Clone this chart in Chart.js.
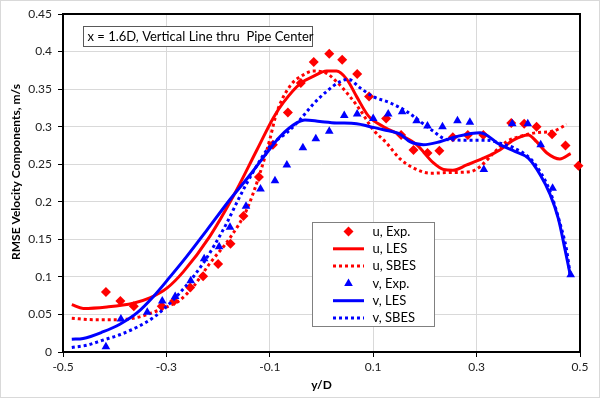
<!DOCTYPE html>
<html><head><meta charset="utf-8">
<script src="https://cdn.jsdelivr.net/npm/chart.js@4/dist/chart.umd.min.js"></script>
<style>html,body{margin:0;padding:0;background:#fff;}#wrap{width:600px;height:398px;position:relative;}</style>
</head><body><div id="wrap"><canvas id="c" width="600" height="398"></canvas></div>
<script>
const xTickValues = [-0.5, -0.3, -0.1, 0.1, 0.3, 0.5];
const xTickLabels = ['-0.5', '-0.3', '-0.1', '0.1', '0.3', '0.5'];
const yTickValues = [0, 0.05, 0.1, 0.15, 0.2, 0.25, 0.3, 0.35, 0.4, 0.45];
const yTickLabels = ['0', '0.05', '0.1', '0.15', '0.2', '0.25', '0.3', '0.35', '0.4', '0.45'];
const seriesNames = ['u, Exp.', 'u, LES', 'u, SBES', 'v, Exp.', 'v, LES', 'v, SBES'];
const xTitle = 'y/D';
const yTitle = 'RMSE Velocity Components, m/s';
const noteText = 'x = 1.6D, Vertical Line thru  Pipe Center';

const uExpX = [-0.417,-0.389,-0.363,-0.309,-0.285,-0.254,-0.229,-0.200,-0.176,-0.151,-0.121,-0.094,-0.065,-0.040,-0.015,0.015,0.040,0.069,0.092,0.125,0.154,0.178,0.205,0.228,0.254,0.283,0.313,0.367,0.392,0.416,0.446,0.472,0.497];
const uExpY = [0.080,0.068,0.061,0.061,0.068,0.086,0.101,0.117,0.144,0.181,0.233,0.276,0.319,0.358,0.386,0.397,0.389,0.370,0.340,0.311,0.289,0.269,0.265,0.268,0.286,0.289,0.289,0.305,0.304,0.300,0.290,0.275,0.248];

const uLesX = [-0.483,-0.461,-0.415,-0.364,-0.332,-0.299,-0.267,-0.216,-0.171,-0.125,-0.093,-0.074,-0.040,-0.016,0.010,0.029,0.049,0.068,0.091,0.120,0.152,0.184,0.216,0.236,0.254,0.281,0.313,0.345,0.371,0.400,0.416,0.436,0.461,0.482];
const uLesY = [0.063,0.058,0.060,0.065,0.072,0.085,0.107,0.154,0.207,0.269,0.312,0.332,0.358,0.367,0.374,0.374,0.363,0.340,0.314,0.300,0.289,0.276,0.252,0.243,0.242,0.249,0.258,0.269,0.282,0.289,0.280,0.265,0.257,0.264];

const uSbesX = [-0.483,-0.441,-0.396,-0.357,-0.325,-0.299,-0.274,-0.248,-0.216,-0.177,-0.145,-0.119,-0.100,-0.087,-0.061,-0.035,-0.016,0.007,0.029,0.055,0.074,0.100,0.126,0.152,0.178,0.210,0.249,0.287,0.307,0.333,0.358,0.384,0.416,0.448,0.474];
const uSbesY = [0.045,0.043,0.043,0.046,0.053,0.060,0.069,0.087,0.118,0.152,0.189,0.238,0.283,0.318,0.354,0.369,0.374,0.372,0.360,0.340,0.323,0.296,0.278,0.257,0.245,0.238,0.239,0.240,0.247,0.265,0.280,0.287,0.292,0.294,0.303];

const vExpX = [-0.417,-0.388,-0.337,-0.308,-0.283,-0.253,-0.227,-0.198,-0.177,-0.146,-0.118,-0.090,-0.067,-0.036,-0.011,0.015,0.044,0.069,0.100,0.129,0.156,0.184,0.205,0.234,0.263,0.287,0.314,0.369,0.399,0.424,0.447,0.482];
const vExpY = [0.007,0.044,0.053,0.068,0.074,0.095,0.124,0.140,0.166,0.194,0.217,0.228,0.249,0.272,0.284,0.294,0.315,0.317,0.311,0.317,0.320,0.308,0.301,0.300,0.308,0.306,0.243,0.304,0.304,0.276,0.218,0.103];

const vLesX = [-0.483,-0.461,-0.422,-0.390,-0.357,-0.325,-0.293,-0.261,-0.222,-0.177,-0.138,-0.106,-0.080,-0.048,-0.032,-0.003,0.029,0.068,0.094,0.120,0.152,0.171,0.197,0.229,0.262,0.307,0.345,0.374,0.400,0.423,0.442,0.458,0.470,0.481];
const vLesY = [0.017,0.018,0.027,0.037,0.052,0.074,0.100,0.127,0.162,0.203,0.236,0.265,0.287,0.305,0.309,0.307,0.305,0.304,0.300,0.296,0.290,0.280,0.276,0.280,0.287,0.292,0.276,0.267,0.258,0.236,0.210,0.178,0.140,0.103];

const vSbesX = [-0.483,-0.454,-0.422,-0.390,-0.357,-0.325,-0.293,-0.261,-0.229,-0.209,-0.183,-0.158,-0.132,-0.100,-0.067,-0.042,-0.016,0.010,0.036,0.052,0.074,0.100,0.132,0.165,0.187,0.216,0.242,0.281,0.320,0.345,0.371,0.403,0.423,0.442,0.461,0.474,0.481];
const vSbesY = [0.006,0.009,0.016,0.023,0.033,0.046,0.065,0.089,0.118,0.140,0.172,0.207,0.240,0.274,0.292,0.309,0.330,0.347,0.360,0.363,0.352,0.340,0.332,0.320,0.309,0.294,0.283,0.282,0.282,0.278,0.272,0.258,0.240,0.214,0.172,0.136,0.103];

const RED = '#ff0000', BLUE = '#0000ff';
const FONT = "Lato, 'Open Sans', 'Liberation Sans', sans-serif";
const pts = (xs, ys) => xs.map((x, i) => ({x: x, y: ys[i]}));

function markerSet(label, xs, ys, color, style, r, order) {
  return {type: 'scatter', label, data: pts(xs, ys), showLine: false, pointStyle: style,
    pointRadius: r, pointHoverRadius: r, backgroundColor: color, borderColor: color, borderWidth: 0, clip: false, order};
}
function lineSet(label, xs, ys, color, dash, order) {
  return {type: 'line', label, data: pts(xs, ys), showLine: true, pointRadius: 0, borderColor: color,
    backgroundColor: color, borderWidth: 3, borderDash: dash || [], borderCapStyle: 'butt',
    cubicInterpolationMode: 'monotone', fill: false, clip: 3, order};
}

const datasets = [
  markerSet(seriesNames[0], uExpX, uExpY, RED, 'rectRot', 5, 6),
  lineSet(seriesNames[1], uLesX, uLesY, RED, null, 5),
  lineSet(seriesNames[2], uSbesX, uSbesY, RED, [3, 3], 4),
  markerSet(seriesNames[3], vExpX, vExpY, BLUE, 'triangle', 5, 3),
  lineSet(seriesNames[4], vLesX, vLesY, BLUE, null, 2),
  lineSet(seriesNames[5], vSbesX, vSbesY, BLUE, [3, 3], 1)
];

const decor = {
  id: 'decor',
  beforeDatasetsDraw(chart) {
    const {ctx, chartArea: a} = chart;
    ctx.save();
    ctx.strokeStyle = '#000';
    ctx.lineWidth = 2;
    ctx.strokeRect(a.left, a.top, a.right - a.left, a.bottom - a.top);
    ctx.restore();
  },
  afterDraw(chart) {
    const {ctx, chartArea: a} = chart;
    ctx.save();
    ctx.strokeStyle = '#d9d9d9'; ctx.lineWidth = 1;
    ctx.strokeRect(0.5, 0.5, 599, 397);
    ctx.fillStyle = '#fff'; ctx.fillRect(83.5, 26.5, 229, 20);
    ctx.strokeStyle = '#595959'; ctx.lineWidth = 1; ctx.strokeRect(83.5, 26.5, 229, 20);
    ctx.fillStyle = '#000'; ctx.font = '13px ' + FONT; ctx.textBaseline = 'middle'; ctx.textAlign = 'left';
    ctx.fillText(noteText, 87.5, 37);
    ctx.font = 'bold 12px ' + FONT; ctx.textAlign = 'center';
    ctx.fillText(xTitle, (a.left + a.right) / 2, 385);
    ctx.save(); ctx.translate(16, 172); ctx.rotate(-Math.PI / 2); ctx.fillText(yTitle, 0, 0); ctx.restore();
    ctx.fillStyle = '#fff'; ctx.fillRect(312.5, 222.5, 122, 104);
    ctx.strokeStyle = '#808080'; ctx.lineWidth = 1; ctx.strokeRect(312.5, 222.5, 122, 104);
    const rowY0 = 231.5, rowH = 17.3;
    chart.data.datasets.forEach((ds, i) => {
      const y = rowY0 + i * rowH;
      if (ds.showLine === false) {
        ctx.fillStyle = ds.backgroundColor; ctx.strokeStyle = ds.borderColor;
        Chart.helpers.drawPoint(ctx, {pointStyle: ds.pointStyle, radius: ds.pointRadius, rotation: 0, borderWidth: 0}, 348.5, y);
      } else {
        ctx.strokeStyle = ds.borderColor; ctx.lineWidth = ds.borderWidth; ctx.setLineDash(ds.borderDash);
        ctx.beginPath(); ctx.moveTo(333, y); ctx.lineTo(364, y); ctx.stroke(); ctx.setLineDash([]);
      }
      ctx.fillStyle = '#000'; ctx.font = '13px ' + FONT; ctx.textAlign = 'left'; ctx.textBaseline = 'middle';
      ctx.fillText(ds.label, 372.5, y);
    });
    ctx.restore();
  }
};

new Chart(document.getElementById('c'), {
  type: 'scatter',
  data: {datasets},
  options: {
    responsive: false, animation: false, devicePixelRatio: 1,
    layout: {padding: {left: 0, top: 14, right: 20, bottom: 0}},
    plugins: {legend: {display: false}, tooltip: {enabled: false}},
    scales: {
      x: {
        type: 'linear', min: -0.5, max: 0.5,
        afterFit: s => { s.height = 46; },
        afterBuildTicks: s => { s.ticks = xTickValues.map(v => ({value: v})); },
        ticks: {callback: (v) => { const i = xTickValues.findIndex(t => Math.abs(t - v) < 1e-9); return i >= 0 ? xTickLabels[i] : ''; },
          color: '#222', font: {family: FONT, size: 12}, padding: 3, maxRotation: 0, autoSkip: false},
        grid: {color: '#d9d9d9', tickColor: '#000', tickLength: 5, lineWidth: 1},
        border: {display: false}
      },
      y: {
        type: 'linear', min: 0, max: 0.45,
        afterFit: s => { s.width = 63; },
        afterBuildTicks: s => { s.ticks = yTickValues.map(v => ({value: v})); },
        ticks: {callback: (v) => { const i = yTickValues.findIndex(t => Math.abs(t - v) < 1e-9); return i >= 0 ? yTickLabels[i] : ''; },
          color: '#222', font: {family: FONT, size: 12}, padding: 6, autoSkip: false},
        grid: {color: '#d9d9d9', tickColor: '#000', tickLength: 5, lineWidth: 1},
        border: {display: false}
      }
    }
  },
  plugins: [decor]
});
</script></body></html>
